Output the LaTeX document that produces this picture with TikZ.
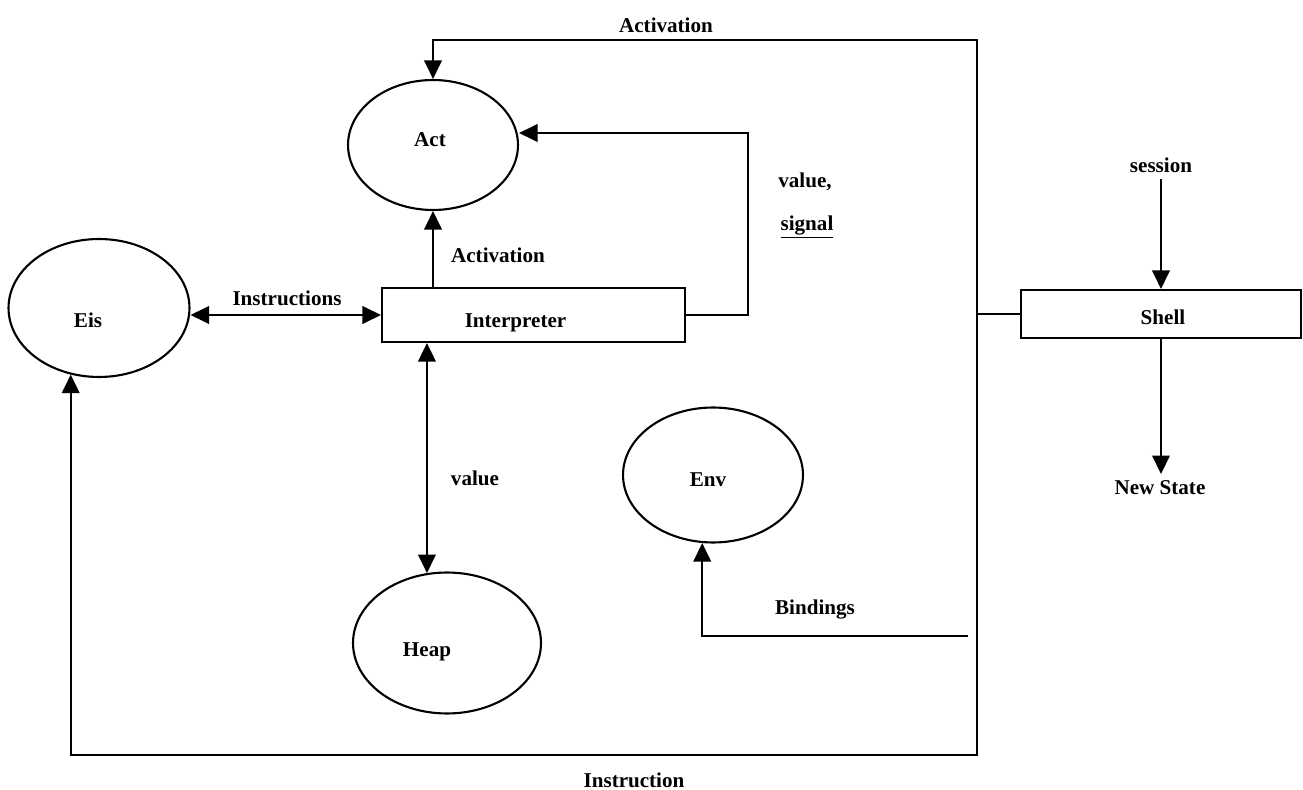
\documentclass[tikz,border=0pt]{standalone}
\usepackage{fontspec}
\setmainfont{Liberation Serif}
\usetikzlibrary{arrows.meta,shapes.geometric,calc}

\begin{document}
\begin{tikzpicture}[x=0.02cm,y=-0.02cm,line width=1.2pt,
  font=\fontsize{12}{14}\selectfont\bfseries,
  state/.style={draw,ellipse,inner sep=0pt},
  box/.style={draw,rectangle,inner sep=0pt},
  tip/.style={arrows=-{Triangle[length=0.37cm,width=0.35cm]}},
  twotip/.style={arrows={Triangle[length=0.37cm,width=0.35cm]}-{Triangle[length=0.37cm,width=0.35cm]}}]
  \useasboundingbox (0,0) rectangle (1303,790);

  \node[state,minimum width=3.4cm,minimum height=2.6cm,label={[shift={(-3,-5)}]center:Act}] (act) at (433,145) {};
  \node[state,minimum width=3.62cm,minimum height=2.76cm,label={[shift={(-11,12)}]center:Eis}] (eis) at (99,308) {};
  \node[state,minimum width=3.76cm,minimum height=2.82cm,label={[shift={(-20,9)}]center:Heap}] (heap) at (447,643) {};
  \node[state,minimum width=3.6cm,minimum height=2.7cm,label={[shift={(-5,5)}]center:Env}] (env) at (713,475) {};
  \node[box,minimum width=6.06cm,minimum height=1.08cm,label={[shift={(-18,8)}]center:Interpreter}] (interp) at (533.5,315) {};
  \node[box,minimum width=5.6cm,minimum height=0.96cm,label={[shift={(2,3)}]center:Shell}] (shell) at (1161,314) {};

  \node (session) at (1161,165) {session};
  \node (newstate) at (1160,488) {New State};

  \coordinate (bus) at (977,314);
  \coordinate (bustop) at (977,40);
  \coordinate (busbot) at (977,755);
  \coordinate (bind) at (968,636);
  \coordinate (loop) at (748,133);

  \draw (shell.west) -- (bus);
  \draw[tip] (bus) -- (bustop) -| (act.north);
  \draw[tip] (bus) -- (busbot) -| (eis.247);
  \draw[tip] (bind) -| (env.261);
  \draw[tip] (act.south |- interp.north) -- (act.south);
  \draw[twotip] (eis.east |- interp.west) -- (interp.west);
  \draw[twotip] (heap.106 |- interp.south) -- (heap.106);
  \draw[tip] (interp.east) -| (loop) -- (act.east |- loop);
  \draw[tip] (session) -- (session |- shell.north);
  \draw[tip] (shell.south) -- (shell.south |- newstate.north);

  \node (lblact) at (666,25) {Activation};
  \node (lblact2) at (498,255) {Activation};
  \node (lblins) at (287,298) {Instructions};
  \node (lblval) at (805,182) {value,};
  \node (lblsig) at (807,227) {\underline{signal}};
  \node (lblheap) at (475,478) {value};
  \node (lblbind) at (815,610) {Bindings};
  \node (lblinstr) at (634,780) {Instruction};
\end{tikzpicture}
\end{document}
